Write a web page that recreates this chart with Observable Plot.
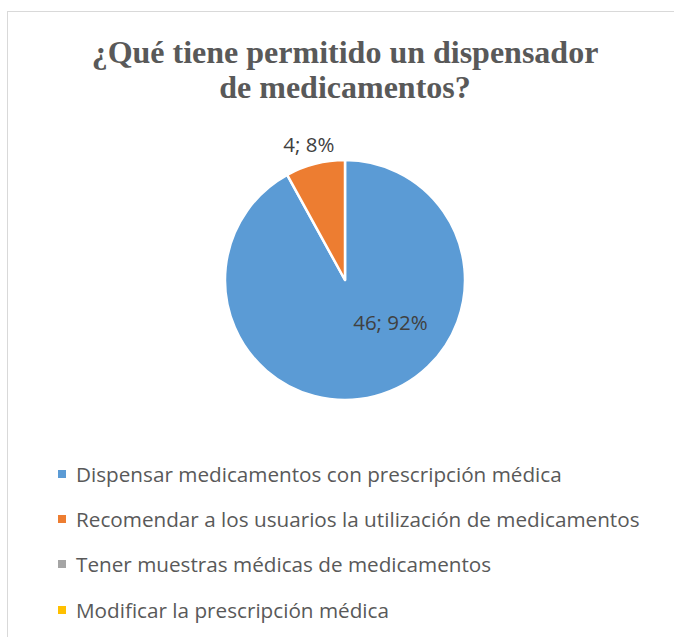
<!DOCTYPE html>
<html>
<head>
<meta charset="utf-8">
<script src="https://cdn.jsdelivr.net/npm/d3@7"></script>
<script src="https://cdn.jsdelivr.net/npm/@observablehq/plot@0.6"></script>
<style>
  html, body { margin: 0; padding: 0; background: #fff; }
  body { width: 674px; height: 637px; overflow: hidden; position: relative; }
  #frame { position: absolute; left: 7px; top: 11px; width: 700px; height: 700px;
           border-left: 1.5px solid #d9d9d9; border-top: 1.5px solid #d9d9d9; box-sizing: border-box; }
  #title { position: absolute; left: 16px; width: 658px; top: 35px; text-align: center;
           font-family: "Liberation Serif", serif; font-weight: bold; font-size: 32px;
           line-height: 35px; color: #595959; }
  #chart { position: absolute; left: 0; top: 130px; }
  .row { position: absolute; left: 0; height: 24px; line-height: 24px; white-space: nowrap;
         font-family: "Open Sans", sans-serif; font-size: 20.7px; color: #595959; }
  .sw { position: absolute; left: 58px; top: 8px; width: 8px; height: 8px; }
  .lab { position: absolute; left: 76px; top: 0; }
</style>
</head>
<body>
<div id="frame"></div>
<div id="title">¿Qué tiene permitido un dispensador<br>de medicamentos?</div>
<div id="chart"></div>
<div id="legend"></div>
<script>
const categories = [
  "Dispensar medicamentos con prescripción médica",
  "Recomendar a los usuarios la utilización de medicamentos",
  "Tener muestras médicas de medicamentos",
  "Modificar la prescripción médica"
];
const counts = [46, 4, 0, 0];
const colors = ["#5B9BD5", "#ED7D31", "#A5A5A5", "#FFC000"];

const total = d3.sum(counts);
const data = categories.map((c, i) => ({category: c, value: counts[i], share: counts[i] / total}));
const arcs = d3.pie().sort(null).value(d => d.value)(data);
const labels = arcs.filter(a => a.data.value > 0).map(a => {
  const mid = (a.startAngle + a.endAngle) / 2;
  return {
    inside: a.data.share > 0.5,
    sin: Math.sin(mid), cos: Math.cos(mid),
    text: `${a.data.value}; ${Math.round(a.data.share * 100)}%`
  };
});

const pieMark = (index, scales, values, dims) => {
  const cx = scales.x(0), cy = scales.y(0), r = scales.x(1) - scales.x(0);
  const g = d3.create("svg:g").attr("transform", `translate(${cx},${cy})`);
  const arc = d3.arc().innerRadius(0).outerRadius(r);
  g.selectAll("path").data(arcs.filter(a => a.value > 0)).join("path")
    .attr("d", arc)
    .attr("fill", d => scales.color(d.data.category))
    .attr("stroke", "#fff")
    .attr("stroke-width", 2.5)
    .attr("stroke-linejoin", "round");
  return g.node();
};

const chart = Plot.plot({
  width: 674,
  height: 300,
  margin: 0,
  x: {domain: [-1, 1], range: [225, 465], axis: null},
  y: {domain: [-1, 1], range: [270, 30], axis: null},
  color: {domain: categories, range: colors},
  marks: [
    pieMark,
    Plot.text(labels.filter(d => d.inside), {
      x: d => d.sin * 0.5, y: d => d.cos * 0.5, text: "text",
      dx: 30, dy: -15, fontSize: 20.5, fill: "#404040",
      fontFamily: "Open Sans"
    }),
    Plot.text(labels.filter(d => !d.inside), {
      x: d => d.sin * 1.16, y: d => d.cos * 1.16, text: "text",
      dx: -2, fontSize: 20.5, fill: "#404040", fontFamily: "Open Sans"
    })
  ]
});
document.getElementById("chart").appendChild(chart);

const legend = document.getElementById("legend");
categories.forEach((c, i) => {
  const row = document.createElement("div");
  row.className = "row";
  row.style.top = (462 + i * 45.2) + "px";
  row.innerHTML = `<span class="sw" style="background:${colors[i]}"></span><span class="lab">${c}</span>`;
  legend.appendChild(row);
});
</script>
</body>
</html>
